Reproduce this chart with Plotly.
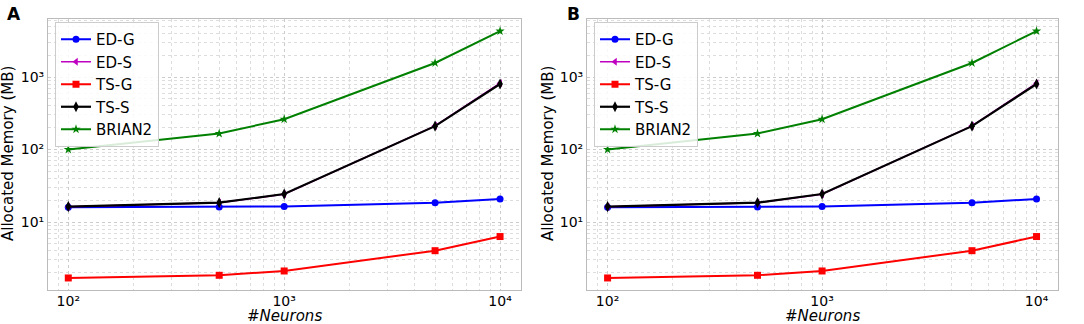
import plotly.graph_objects as go

neurons = [100, 500, 1000, 5000, 10000]
ed_g = [16.0, 16.1, 16.4, 18.5, 20.7]
ed_s = [16.2, 18.4, 24.2, 212, 820]
ts_g = [1.69, 1.84, 2.11, 4.02, 6.3]
ts_s = [16.3, 18.5, 24.3, 210, 800]
brian2 = [100, 166, 262, 1560, 4300]

series = [
    ("ED-G", ed_g, "blue", "circle", 7, 2),
    ("ED-S", ed_s, "#c000c0", "triangle-left", 7, 1.5),
    ("TS-G", ts_g, "red", "square", 7, 2),
    ("TS-S", ts_s, "black", "diamond-tall", 8, 2.2),
    ("BRIAN2", brian2, "green", "star", 7, 2),
]

x_ticks = [100, 1000, 10000]
x_ticktext = ["10²", "10³", "10⁴"]
y_ticks = [10, 100, 1000]
y_ticktext = ["10¹", "10²", "10³"]

minor_vals = [k * 10 ** n for n in range(-1, 6) for k in range(2, 10)]

FW, FH = 1084, 324


def px(x):
    return x / FW


def py(y):
    return 1 - y / FH


fig = go.Figure()

panels = [
    dict(x0=48, x1=521, xr=[1.906, 4.097], label="A", lx=14, tx=8, legend="legend", xa="x", ya="y"),
    dict(x0=587, x1=1058, xr=[1.904, 4.100], label="B", lx=573, tx=548, legend="legend2", xa="x2", ya="y2"),
]

ydom = [py(290), py(19)]
font = "DejaVu Sans, sans-serif"

for i, p in enumerate(panels):
    for name, vals, col, sym, ms, lw in series:
        fig.add_trace(go.Scatter(
            x=neurons, y=vals, name=name, mode="lines+markers",
            line=dict(color=col, width=lw),
            marker=dict(color=col, symbol=sym, size=ms),
            xaxis=p["xa"], yaxis=p["ya"], legend=p["legend"],
        ))
    sfx = "" if i == 0 else "2"
    axcommon = dict(
        type="log", showline=True, mirror=True, linecolor="#bbbbbb", linewidth=1,
        showgrid=True, gridcolor="#cccccc", griddash="dot", gridwidth=1,
        ticks="", tickfont=dict(size=14, color="black", family=font),
        zeroline=False, automargin=False,
        minor=dict(tickmode="array", tickvals=minor_vals, showgrid=True,
                   gridcolor="#dddddd", griddash="dot", gridwidth=1, ticks=""),
    )
    fig.update_layout(**{
        "xaxis" + sfx: dict(
            domain=[px(p["x0"]), px(p["x1"])], range=p["xr"], anchor="y" + sfx,
            tickmode="array", tickvals=x_ticks, ticktext=x_ticktext,
            ticklabelstandoff=-2, **axcommon),
        "yaxis" + sfx: dict(
            domain=ydom, range=[0.062, 3.80], anchor="x" + sfx,
            tickmode="array", tickvals=y_ticks, ticktext=y_ticktext, **axcommon),
        p["legend"]: dict(
            x=px(p["x0"] + 7), y=py(22), xanchor="left", yanchor="top",
            bgcolor="rgba(255,255,255,0.85)", bordercolor="#cccccc", borderwidth=1,
            font=dict(size=15, family=font, color="black"), tracegroupgap=0,
            itemwidth=30,
        ),
    })
    fig.add_annotation(text="<b>" + p["label"] + "</b>", x=px(p["lx"]), y=py(14),
                       xref="paper", yref="paper", showarrow=False,
                       xanchor="center", yanchor="middle",
                       font=dict(size=17, family=font, color="black"))
    fig.add_annotation(text="<i>#Neurons</i>", x=px((p["x0"] + p["x1"]) / 2), y=py(316),
                       xref="paper", yref="paper", showarrow=False,
                       xanchor="center", yanchor="middle",
                       font=dict(size=15, family=font, color="black"))
    fig.add_annotation(text="Allocated Memory (MB)", x=px(p["tx"]), y=py(154),
                       xref="paper", yref="paper", showarrow=False, textangle=-90,
                       xanchor="center", yanchor="middle",
                       font=dict(size=15, family=font, color="black"))

fig.update_layout(
    width=FW, height=FH, margin=dict(l=0, r=0, t=0, b=0),
    paper_bgcolor="white", plot_bgcolor="white",
    font=dict(family=font, color="black"),
)

fig.write_html("out.html", config={"displayModeBar": False},
               post_script="document.body.style.margin='0';")
